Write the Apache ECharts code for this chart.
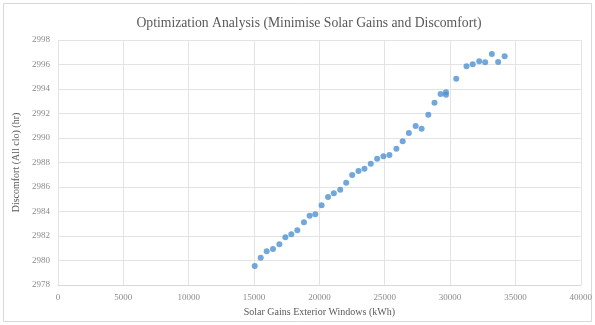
<!DOCTYPE html>
<html>
<head>
<meta charset="utf-8">
<script src="https://cdn.jsdelivr.net/npm/echarts@6/dist/echarts.min.js"></script>
<style>
  html, body { margin: 0; padding: 0; background: #fff; }
  #chart { width: 595px; height: 325px; }
</style>
</head>
<body>
<div id="chart"></div>
<script>
// solar gains (kWh) and discomfort (hr)
var solarGains = [15053, 15511, 15969, 16450, 16939, 17397, 17855, 18313, 18817, 19252,
	19687, 20168, 20664, 21107, 21595, 22053, 22511, 22992, 23450, 23931,
	24420, 24901, 25359, 25893, 26374, 26847, 27366, 27824, 28336, 28809,
	29275, 29687, 29687, 30473, 31260, 31733, 32229, 32687, 33198, 33679, 34176];
var discomfort = [2979.55, 2980.23, 2980.75, 2980.94, 2981.32, 2981.89, 2982.14, 2982.47, 2983.12, 2983.66,
	2983.77, 2984.51, 2985.18, 2985.49, 2985.78, 2986.35, 2986.98, 2987.31, 2987.49, 2987.90,
	2988.31, 2988.51, 2988.61, 2989.13, 2989.74, 2990.41, 2990.98, 2990.76, 2991.90, 2992.87,
	2993.59, 2993.73, 2993.53, 2994.83, 2995.86, 2996.02, 2996.27, 2996.18, 2996.86, 2996.20, 2996.67];

var titleText = 'Optimization Analysis (Minimise Solar Gains and Discomfort)';
var xName = 'Solar Gains Exterior Windows (kWh)';
var yName = 'Discomfort (All clo) (hr)';

var points = [];
for (var i = 0; i < solarGains.length; i++) {
	points.push([solarGains[i], discomfort[i]]);
}

var font = '"Liberation Serif", "DejaVu Serif", serif';
var chart = echarts.init(document.getElementById('chart'));

var option = {
	backgroundColor: '#fff',
	animation: false,
	title: {
		text: titleText,
		left: 304,
		textAlign: 'center',
		top: 11,
		textStyle: { fontFamily: font, fontSize: 13.7, fontWeight: 'normal', color: '#595959' }
	},
	graphic: [{
		type: 'rect',
		shape: { x: 3.5, y: 3.5, width: 588, height: 318 },
		style: { fill: 'none', stroke: '#d9d9d9', lineWidth: 1 },
		silent: true
	}],
	grid: { left: 58, right: 13, top: 40, bottom: 40 },
	xAxis: {
		type: 'value',
		min: 0, max: 40000, interval: 5000,
		name: xName,
		nameLocation: 'middle',
		nameGap: 20,
		nameTextStyle: { fontFamily: font, fontSize: 10, color: '#595959' },
		axisLine: { show: true, lineStyle: { color: '#d9d9d9' } },
		axisTick: { show: false },
		axisLabel: { fontFamily: font, fontSize: 9, color: '#8c8c8c', margin: 8,
			formatter: function (v) { return String(v); } },
		splitLine: { show: true, lineStyle: { color: '#e3e3e3' } }
	},
	yAxis: {
		type: 'value',
		min: 2978, max: 2998, interval: 2,
		name: yName,
		nameLocation: 'middle',
		nameGap: 29,
		nameTextStyle: { fontFamily: font, fontSize: 10, color: '#595959' },
		axisLine: { show: false },
		axisTick: { show: false },
		axisLabel: { fontFamily: font, fontSize: 9, color: '#8c8c8c', margin: 8,
			formatter: function (v) { return String(v); } },
		splitLine: { show: true, lineStyle: { color: '#e3e3e3' } }
	},
	series: [{
		type: 'scatter',
		data: points,
		symbolSize: 6,
		itemStyle: { color: '#4f91d2' }
	}]
};
chart.setOption(option);
</script>
</body>
</html>
